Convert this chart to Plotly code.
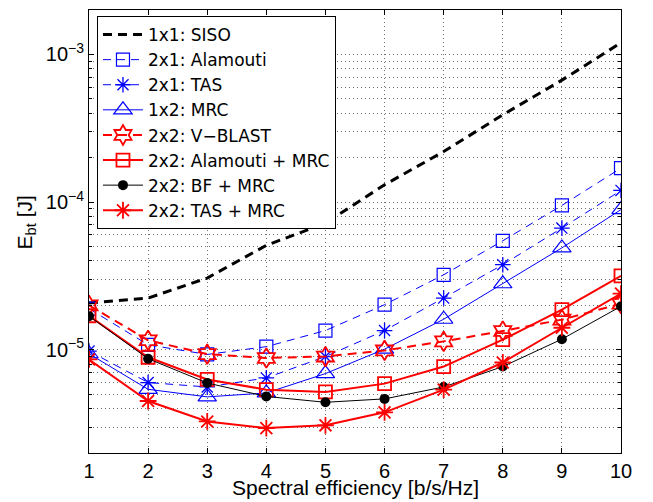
import plotly.graph_objects as go

x = [1, 2, 3, 4, 5, 6, 7, 8, 9, 10]

siso = [2.07e-5, 2.24e-5, 3.06e-5, 5.1e-5, 7.2e-5, 1.31e-4, 2.2e-4, 3.9e-4, 6.7e-4, 1.2e-3]
alamouti_2x1 = [1.9e-5, 1.08e-5, 9.3e-6, 1.05e-5, 1.35e-5, 2.02e-5, 3.22e-5, 5.47e-5, 9.5e-5, 1.7e-4]
tas_2x1 = [9.8e-6, 6.0e-6, 5.6e-6, 6.45e-6, 9.0e-6, 1.35e-5, 2.24e-5, 3.77e-5, 6.67e-5, 1.2e-4]
mrc_1x2 = [9.4e-6, 5.4e-6, 4.8e-6, 5.1e-6, 6.9e-6, 1.01e-5, 1.61e-5, 2.8e-5, 4.9e-5, 8.9e-5]
vblast_2x2 = [2.0e-5, 1.16e-5, 9.35e-6, 8.8e-6, 9.0e-6, 9.9e-6, 1.14e-5, 1.34e-5, 1.6e-5, 2.05e-5]
alamouti_mrc_2x2 = [1.7e-5, 8.9e-6, 6.3e-6, 5.37e-6, 5.18e-6, 5.9e-6, 7.7e-6, 1.17e-5, 1.87e-5, 3.17e-5]
bf_mrc_2x2 = [1.69e-5, 8.7e-6, 5.96e-6, 4.83e-6, 4.41e-6, 4.65e-6, 5.6e-6, 7.7e-6, 1.18e-5, 1.97e-5]
tas_mrc_2x2 = [8.6e-6, 4.5e-6, 3.27e-6, 2.95e-6, 3.08e-6, 3.77e-6, 5.37e-6, 8.2e-6, 1.41e-5, 2.4e-5]

names = ["1x1: SISO", "2x1: Alamouti", "2x1: TAS", "1x2: MRC",
         "2x2: V\u2212BLAST", "2x2: Alamouti + MRC", "2x2: BF + MRC", "2x2: TAS + MRC"]

x_title = "Spectral efficiency [b/s/Hz]"
y_title = "E<sub>bt</sub> [J]"

BLUE = "#0000FF"
RED = "#FF0000"
BLACK = "#000000"

fig = go.Figure()

fig.add_trace(go.Scatter(x=x, y=siso, name=names[0], mode="lines",
                         line=dict(color=BLACK, width=3, dash="9px,6px")))
fig.add_trace(go.Scatter(x=x, y=alamouti_2x1, name=names[1], mode="lines+markers",
                         line=dict(color=BLUE, width=1, dash="8px,6px"),
                         marker=dict(symbol="square-open", size=13, color=BLUE,
                                     line=dict(width=1.2, color=BLUE))))
fig.add_trace(go.Scatter(x=x, y=tas_2x1, name=names[2], mode="lines+markers",
                         line=dict(color=BLUE, width=1, dash="8px,6px"),
                         marker=dict(symbol="asterisk-open", size=13, color=BLUE,
                                     line=dict(width=1.3, color=BLUE))))
fig.add_trace(go.Scatter(x=x, y=mrc_1x2, name=names[3], mode="lines+markers",
                         line=dict(color=BLUE, width=1),
                         marker=dict(symbol="triangle-up-open", size=16, color=BLUE,
                                     line=dict(width=1.2, color=BLUE))))
fig.add_trace(go.Scatter(x=x, y=vblast_2x2, name=names[4], mode="lines+markers",
                         line=dict(color=RED, width=2, dash="9px,6px"),
                         marker=dict(symbol="hexagram-open", size=15, color=RED,
                                     line=dict(width=1.8, color=RED))))
fig.add_trace(go.Scatter(x=x, y=alamouti_mrc_2x2, name=names[5], mode="lines+markers",
                         line=dict(color=RED, width=2),
                         marker=dict(symbol="square-open", size=13, color=RED,
                                     line=dict(width=1.8, color=RED))))
fig.add_trace(go.Scatter(x=x, y=bf_mrc_2x2, name=names[6], mode="lines+markers",
                         line=dict(color=BLACK, width=1),
                         marker=dict(symbol="circle", size=10, color=BLACK)))
fig.add_trace(go.Scatter(x=x, y=tas_mrc_2x2, name=names[7], mode="lines+markers",
                         line=dict(color=RED, width=2),
                         marker=dict(symbol="asterisk-open", size=14, color=RED,
                                     line=dict(width=1.8, color=RED))))

major_y = [1e-5, 1e-4, 1e-3]
major_y_text = ["10<sup>\u22125</sup>", "10<sup>\u22124</sup>", "10<sup>\u22123</sup>"]
minor_y = [m * 10.0 ** e for e in (-6, -5, -4, -3) for m in range(2, 10) if m * 10.0 ** e <= 2.0001e-3]

GRID = "#707070"
GDASH = "1px,3px"
FONT = "Liberation Sans, Arial, sans-serif"

# page body adds an 8px offset; figure is sized so it ends at the window edge
fig.update_layout(
    width=645, height=494,
    margin=dict(l=81, r=32, t=2, b=49, autoexpand=False),
    paper_bgcolor="white", plot_bgcolor="white",
    font=dict(family=FONT, size=20, color="black"),
    showlegend=True,
    legend=dict(x=0.015, y=0.9865, xanchor="left", yanchor="top",
                bgcolor="white", bordercolor="black", borderwidth=1,
                font=dict(family="DejaVu Sans, sans-serif", size=17),
                tracegroupgap=0, itemwidth=40),
    annotations=[
        dict(text=x_title, xref="paper", yref="paper", x=0.5, y=-0.079,
             xanchor="center", yanchor="middle", showarrow=False,
             font=dict(family=FONT, size=21)),
        dict(text=y_title, xref="paper", yref="paper", x=-0.118, y=0.521,
             xanchor="center", yanchor="middle", showarrow=False, textangle=-90,
             font=dict(family=FONT, size=21)),
    ],
)

fig.update_xaxes(
    range=[1, 10], tickmode="array", tickvals=x, ticktext=[str(v) for v in x],
    ticks="inside", ticklen=5, tickcolor="black",
    showline=True, linecolor="black", linewidth=1, mirror="ticks",
    showgrid=True, gridcolor=GRID, griddash=GDASH, gridwidth=1,
    zeroline=False, automargin=False,
)

fig.update_yaxes(
    type="log", range=[-5.69897, -2.69897],
    tickmode="array", tickvals=major_y, ticktext=major_y_text,
    ticks="inside", ticklen=5, tickcolor="black",
    showline=True, linecolor="black", linewidth=1, mirror="ticks",
    showgrid=True, gridcolor=GRID, griddash=GDASH, gridwidth=1,
    zeroline=False, automargin=False,
    minor=dict(tickmode="array", tickvals=minor_y, ticks="inside", ticklen=3,
               tickcolor="black", showgrid=True, gridcolor=GRID, griddash=GDASH, gridwidth=1),
)

fig.write_html("out.html")
